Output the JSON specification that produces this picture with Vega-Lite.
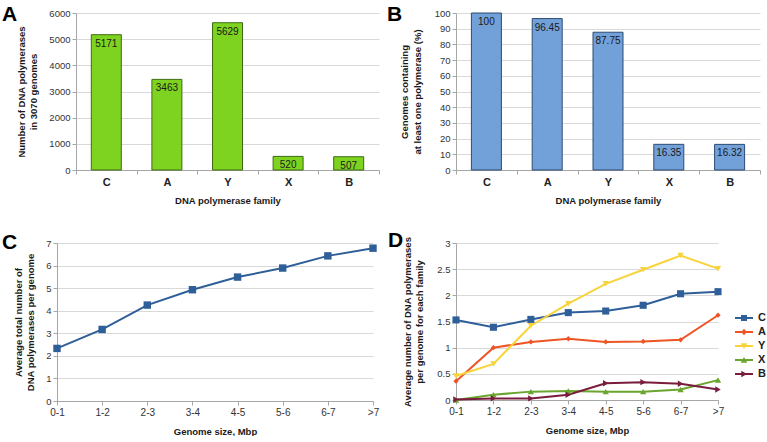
{
  "$schema": "https://vega.github.io/schema/vega-lite/v6.json",
  "background": "white",
  "padding": {"left": 2, "top": 4, "right": 0, "bottom": 0},
  "config": {
    "font": "Liberation Sans",
    "view": {"stroke": null},
    "axis": {
      "labelFont": "Liberation Sans",
      "titleFont": "Liberation Sans",
      "labelFontSize": 9.5,
      "titleFontSize": 9.5,
      "titleFontWeight": "bold",
      "titleLineHeight": 12.5,
      "labelColor": "#333333",
      "titleColor": "#1a1a1a",
      "domainColor": "#a6a6a6",
      "tickColor": "#a6a6a6",
      "gridColor": "#d9d9d9",
      "tickSize": 4,
      "labelPadding": 2
    },
    "title": {
      "font": "Liberation Sans",
      "fontSize": 21,
      "fontWeight": "bold",
      "color": "#000000",
      "anchor": "start",
      "frame": "group",
      "baseline": "alphabetic",
      "offset": 0
    }
  },
  "datasets": {
    "blank": [{"gap": ""}],
    "counts": [
      {"family": "C", "count": 5171},
      {"family": "A", "count": 3463},
      {"family": "Y", "count": 5629},
      {"family": "X", "count": 520},
      {"family": "B", "count": 507}
    ],
    "coverage": [
      {"family": "C", "percent": 100},
      {"family": "A", "percent": 96.45},
      {"family": "Y", "percent": 87.75},
      {"family": "X", "percent": 16.35},
      {"family": "B", "percent": 16.32}
    ],
    "total": [
      {"size": "0-1", "avg": 2.33},
      {"size": "1-2", "avg": 3.17},
      {"size": "2-3", "avg": 4.25},
      {"size": "3-4", "avg": 4.93},
      {"size": "4-5", "avg": 5.49},
      {"size": "5-6", "avg": 5.89},
      {"size": "6-7", "avg": 6.43},
      {"size": ">7", "avg": 6.77}
    ],
    "byFamily": [
      {"size": "0-1", "family": "C", "avg": 1.53},
      {"size": "1-2", "family": "C", "avg": 1.39},
      {"size": "2-3", "family": "C", "avg": 1.54},
      {"size": "3-4", "family": "C", "avg": 1.67},
      {"size": "4-5", "family": "C", "avg": 1.70},
      {"size": "5-6", "family": "C", "avg": 1.81},
      {"size": "6-7", "family": "C", "avg": 2.03},
      {"size": ">7", "family": "C", "avg": 2.07},
      {"size": "0-1", "family": "A", "avg": 0.36},
      {"size": "1-2", "family": "A", "avg": 1.00},
      {"size": "2-3", "family": "A", "avg": 1.11},
      {"size": "3-4", "family": "A", "avg": 1.17},
      {"size": "4-5", "family": "A", "avg": 1.11},
      {"size": "5-6", "family": "A", "avg": 1.12},
      {"size": "6-7", "family": "A", "avg": 1.15},
      {"size": ">7", "family": "A", "avg": 1.62},
      {"size": "0-1", "family": "Y", "avg": 0.46},
      {"size": "1-2", "family": "Y", "avg": 0.69},
      {"size": "2-3", "family": "Y", "avg": 1.42},
      {"size": "3-4", "family": "Y", "avg": 1.84},
      {"size": "4-5", "family": "Y", "avg": 2.22},
      {"size": "5-6", "family": "Y", "avg": 2.49},
      {"size": "6-7", "family": "Y", "avg": 2.76},
      {"size": ">7", "family": "Y", "avg": 2.51},
      {"size": "0-1", "family": "X", "avg": 0.0},
      {"size": "1-2", "family": "X", "avg": 0.10},
      {"size": "2-3", "family": "X", "avg": 0.16},
      {"size": "3-4", "family": "X", "avg": 0.17},
      {"size": "4-5", "family": "X", "avg": 0.16},
      {"size": "5-6", "family": "X", "avg": 0.16},
      {"size": "6-7", "family": "X", "avg": 0.20},
      {"size": ">7", "family": "X", "avg": 0.38},
      {"size": "0-1", "family": "B", "avg": 0.01},
      {"size": "1-2", "family": "B", "avg": 0.03},
      {"size": "2-3", "family": "B", "avg": 0.03},
      {"size": "3-4", "family": "B", "avg": 0.10},
      {"size": "4-5", "family": "B", "avg": 0.32},
      {"size": "5-6", "family": "B", "avg": 0.34},
      {"size": "6-7", "family": "B", "avg": 0.31},
      {"size": ">7", "family": "B", "avg": 0.20}
    ]
  },
  "spacing": 25,
  "vconcat": [
    {
      "spacing": 0,
      "bounds": "flush",
      "hconcat": [
        {
          "width": 74, "height": 10,
          "data": {"name": "blank"},
          "mark": {"type": "text"},
          "encoding": {"text": {"field": "gap"}}
        },
        {
          "width": 303,
          "height": 157,
          "title": {"text": "A", "dx": -74, "dy": 21},
          "data": {"name": "counts"},
          "encoding": {
            "x": {
              "field": "family", "type": "nominal", "sort": null,
              "scale": {"paddingInner": 0, "paddingOuter": 0},
              "axis": {
                "title": "DNA polymerase family", "labelAngle": 0,
                "labelFontSize": 11, "labelFontWeight": "bold", "labelColor": "#222222",
                "labelPadding": 2, "titlePadding": 8, "tickBand": "extent", "grid": false
              }
            },
            "y": {
              "field": "count", "type": "quantitative",
              "scale": {"domain": [0, 6000]},
              "axis": {
                "values": [0, 1000, 2000, 3000, 4000, 5000, 6000],
                "format": "d",
                "title": ["Number of DNA polymerases", "in 3070 genomes"],
                "titlePadding": 10
              }
            }
          },
          "layer": [
            {"mark": {"type": "bar", "width": 30, "fill": "#7ed321", "stroke": "#3e6b12", "strokeWidth": 1}},
            {
              "mark": {"type": "text", "baseline": "top", "dy": 4, "fontSize": 10, "color": "#1a1a1a"},
              "encoding": {"text": {"field": "count", "type": "quantitative", "format": "d"}}
            }
          ]
        },
        {
          "width": 77, "height": 10,
          "data": {"name": "blank"},
          "mark": {"type": "text"},
          "encoding": {"text": {"field": "gap"}}
        },
        {
          "width": 304,
          "height": 157,
          "title": {"text": "B", "dx": -69, "dy": 21},
          "data": {"name": "coverage"},
          "encoding": {
            "x": {
              "field": "family", "type": "nominal", "sort": null,
              "scale": {"paddingInner": 0, "paddingOuter": 0},
              "axis": {
                "title": "DNA polymerase family", "labelAngle": 0,
                "labelFontSize": 11, "labelFontWeight": "bold", "labelColor": "#222222",
                "labelPadding": 2, "titlePadding": 8, "tickBand": "extent", "grid": false
              }
            },
            "y": {
              "field": "percent", "type": "quantitative",
              "scale": {"domain": [0, 100]},
              "axis": {
                "values": [0, 10, 20, 30, 40, 50, 60, 70, 80, 90, 100],
                "title": ["Genomes containing", "at least one polymerase (%)"],
                "titlePadding": 12
              }
            }
          },
          "layer": [
            {"mark": {"type": "bar", "width": 30, "fill": "#72a0d8", "stroke": "#2d4a73", "strokeWidth": 1}},
            {
              "mark": {"type": "text", "baseline": "top", "dy": 4, "fontSize": 10, "color": "#1a1a1a"},
              "encoding": {"text": {"field": "percent", "type": "quantitative", "format": "~r"}}
            }
          ]
        }
      ]
    },
    {
      "spacing": 0,
      "bounds": "flush",
      "hconcat": [
        {
          "width": 55, "height": 10,
          "data": {"name": "blank"},
          "mark": {"type": "text"},
          "encoding": {"text": {"field": "gap"}}
        },
        {
          "width": 316,
          "height": 158,
          "title": {"text": "C", "dx": -55, "dy": 19},
          "data": {"name": "total"},
          "encoding": {
            "x": {
              "field": "size", "type": "ordinal", "sort": null,
              "scale": {"type": "point", "padding": 0},
              "axis": {
                "title": "Genome size, Mbp", "labelAngle": 0, "labelFontSize": 10,
                "labelPadding": 2, "titlePadding": 9, "grid": false
              }
            },
            "y": {
              "field": "avg", "type": "quantitative",
              "scale": {"domain": [0, 7]},
              "axis": {
                "values": [0, 1, 2, 3, 4, 5, 6, 7],
                "title": ["Average total number of", "DNA polymerases per genome"],
                "titlePadding": 10
              }
            }
          },
          "layer": [
            {"mark": {"type": "line", "color": "#2f5f98", "strokeWidth": 2}},
            {"mark": {"type": "point", "shape": "square", "filled": true, "opacity": 1, "size": 55, "color": "#2f5f98"}}
          ]
        },
        {
          "width": 83, "height": 10,
          "data": {"name": "blank"},
          "mark": {"type": "text"},
          "encoding": {"text": {"field": "gap"}}
        },
        {
          "width": 262,
          "height": 157,
          "title": {"text": "D", "dx": -68, "dy": 19},
          "data": {"name": "byFamily"},
          "encoding": {
            "x": {
              "field": "size", "type": "ordinal", "sort": null,
              "scale": {"type": "point", "padding": 0},
              "axis": {
                "title": "Genome size, Mbp", "labelAngle": 0, "labelFontSize": 10,
                "labelPadding": 2, "titlePadding": 9, "grid": false
              }
            },
            "y": {
              "field": "avg", "type": "quantitative",
              "scale": {"domain": [0, 3]},
              "axis": {
                "values": [0, 0.5, 1, 1.5, 2, 2.5, 3],
                "format": "~g",
                "title": ["Average number of DNA polymerases", "per genome for each family"],
                "titlePadding": 12
              }
            },
            "color": {
              "field": "family", "type": "nominal",
              "scale": {"domain": ["C", "A", "Y", "X", "B"], "range": ["#2f5f98", "#ee5424", "#f8d33a", "#6aa52e", "#7a1c3e"]},
              "legend": {
                "title": null,
                "orient": "none",
                "legendX": 736,
                "legendY": 299,
                "symbolSize": 144,
                "rowPadding": 3,
                "labelOffset": 8,
                "labelFontSize": 11,
                "labelFontWeight": "bold",
                "labelColor": "#222222",
                "labelFont": "Liberation Sans",
                "encode": {
                  "symbols": {
                    "update": {
                      "shape": {"signal": "datum.value === 'C' ? 'M-1.5,-0.15H1.5V0.15H-1.5ZM-0.5,-0.5H0.5V0.5H-0.5Z' : datum.value === 'A' ? 'M-1.5,-0.15H1.5V0.15H-1.5ZM0,-0.55L0.45,0L0,0.55L-0.45,0Z' : datum.value === 'Y' ? 'M-1.5,-0.15H1.5V0.15H-1.5ZM-0.55,-0.45H0.55L0,0.5Z' : datum.value === 'X' ? 'M-1.5,-0.15H1.5V0.15H-1.5ZM0.55,0.45H-0.55L0,-0.5Z' : 'M-1.5,-0.15H1.5V0.15H-1.5ZM-0.45,-0.55L0.5,0L-0.45,0.55Z'"},
                      "fill": {"signal": "datum.value === 'C' ? '#2f5f98' : datum.value === 'A' ? '#ee5424' : datum.value === 'Y' ? '#f8d33a' : datum.value === 'X' ? '#6aa52e' : '#7a1c3e'"},
                      "strokeWidth": {"value": 0},
                      "opacity": {"value": 1}
                    }
                  }
                }
              }
            }
          },
          "layer": [
            {"mark": {"type": "line", "strokeWidth": 2}},
            {
              "transform": [{"filter": "datum.family === 'C'"}],
              "mark": {"type": "point", "shape": "square", "filled": true, "opacity": 1, "size": 50}
            },
            {
              "transform": [{"filter": "datum.family === 'A'"}],
              "mark": {"type": "point", "shape": "diamond", "filled": true, "opacity": 1, "size": 28}
            },
            {
              "transform": [{"filter": "datum.family === 'Y'"}],
              "mark": {"type": "point", "shape": "triangle-down", "filled": true, "opacity": 1, "size": 40}
            },
            {
              "transform": [{"filter": "datum.family === 'X'"}],
              "mark": {"type": "point", "shape": "triangle-up", "filled": true, "opacity": 1, "size": 40}
            },
            {
              "transform": [{"filter": "datum.family === 'B'"}],
              "mark": {"type": "point", "shape": "triangle-right", "filled": true, "opacity": 1, "size": 40}
            }
          ]
        }
      ]
    }
  ]
}
